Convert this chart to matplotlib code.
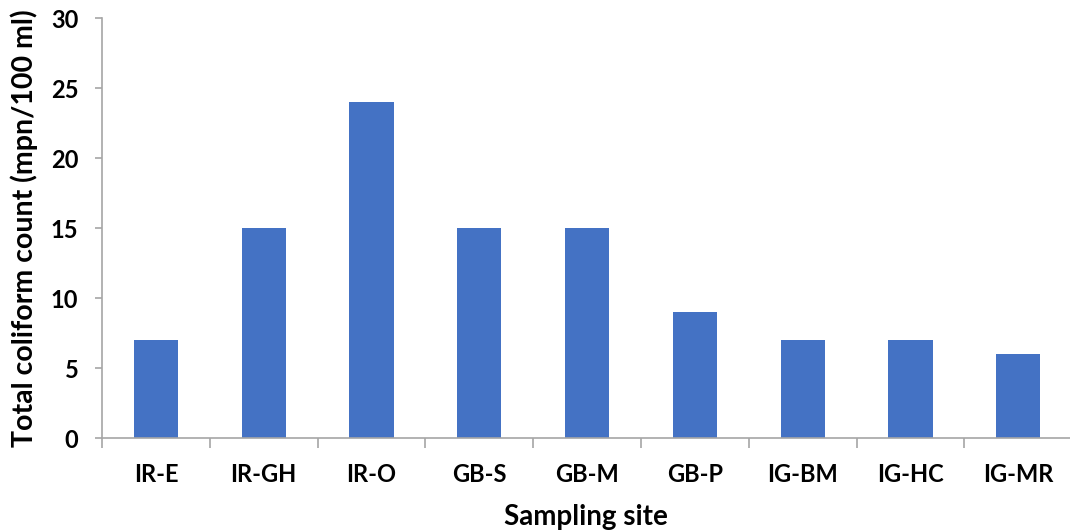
import numpy as np
import matplotlib.pyplot as plt
from matplotlib.ticker import FixedLocator

sites = ["IR-E", "IR-GH", "IR-O", "GB-S", "GB-M", "GB-P", "IG-BM", "IG-HC", "IG-MR"]
coliform = [7, 15, 24, 15, 15, 9, 7, 7, 6]
y_ticks = [0, 5, 10, 15, 20, 25, 30]

plt.rcParams['font.family'] = ['Lato', 'DejaVu Sans']
plt.rcParams['font.weight'] = 'bold'

fig = plt.figure(figsize=(10.7, 5.31), dpi=100)
ax = fig.add_axes([102 / 1070, 1 - 438 / 531, 1 - 102 / 1070, 420 / 531])

x = np.arange(len(sites))
ax.bar(x, coliform, width=0.41, color="#4472C4", zorder=2)

ax.set_xlim(-0.5, 8.48)
ax.set_ylim(0, 30)
ax.set_yticks(y_ticks)
ax.set_xticks(x)
ax.set_xticklabels(sites)
ax.xaxis.set_minor_locator(FixedLocator(np.arange(-0.5, len(sites), 1.0)))

for s in ["top", "right"]:
    ax.spines[s].set_visible(False)
for s in ["left", "bottom"]:
    ax.spines[s].set_color("#A6A6A6")
    ax.spines[s].set_linewidth(1.2)

ax.tick_params(axis="x", which="major", length=0, pad=18, labelsize=17)
ax.tick_params(axis="x", which="minor", length=7, width=1.2, color="#A6A6A6")
ax.tick_params(axis="y", length=5, width=1.2, color="#A6A6A6", pad=12, labelsize=17)

ax.set_ylabel("Total coliform count (mpn/100 ml)", fontsize=20.5, fontweight="bold", labelpad=9)
ax.set_xlabel("Sampling site", fontsize=20, fontweight="bold", labelpad=13)

fig.savefig("out.png", dpi=100)
